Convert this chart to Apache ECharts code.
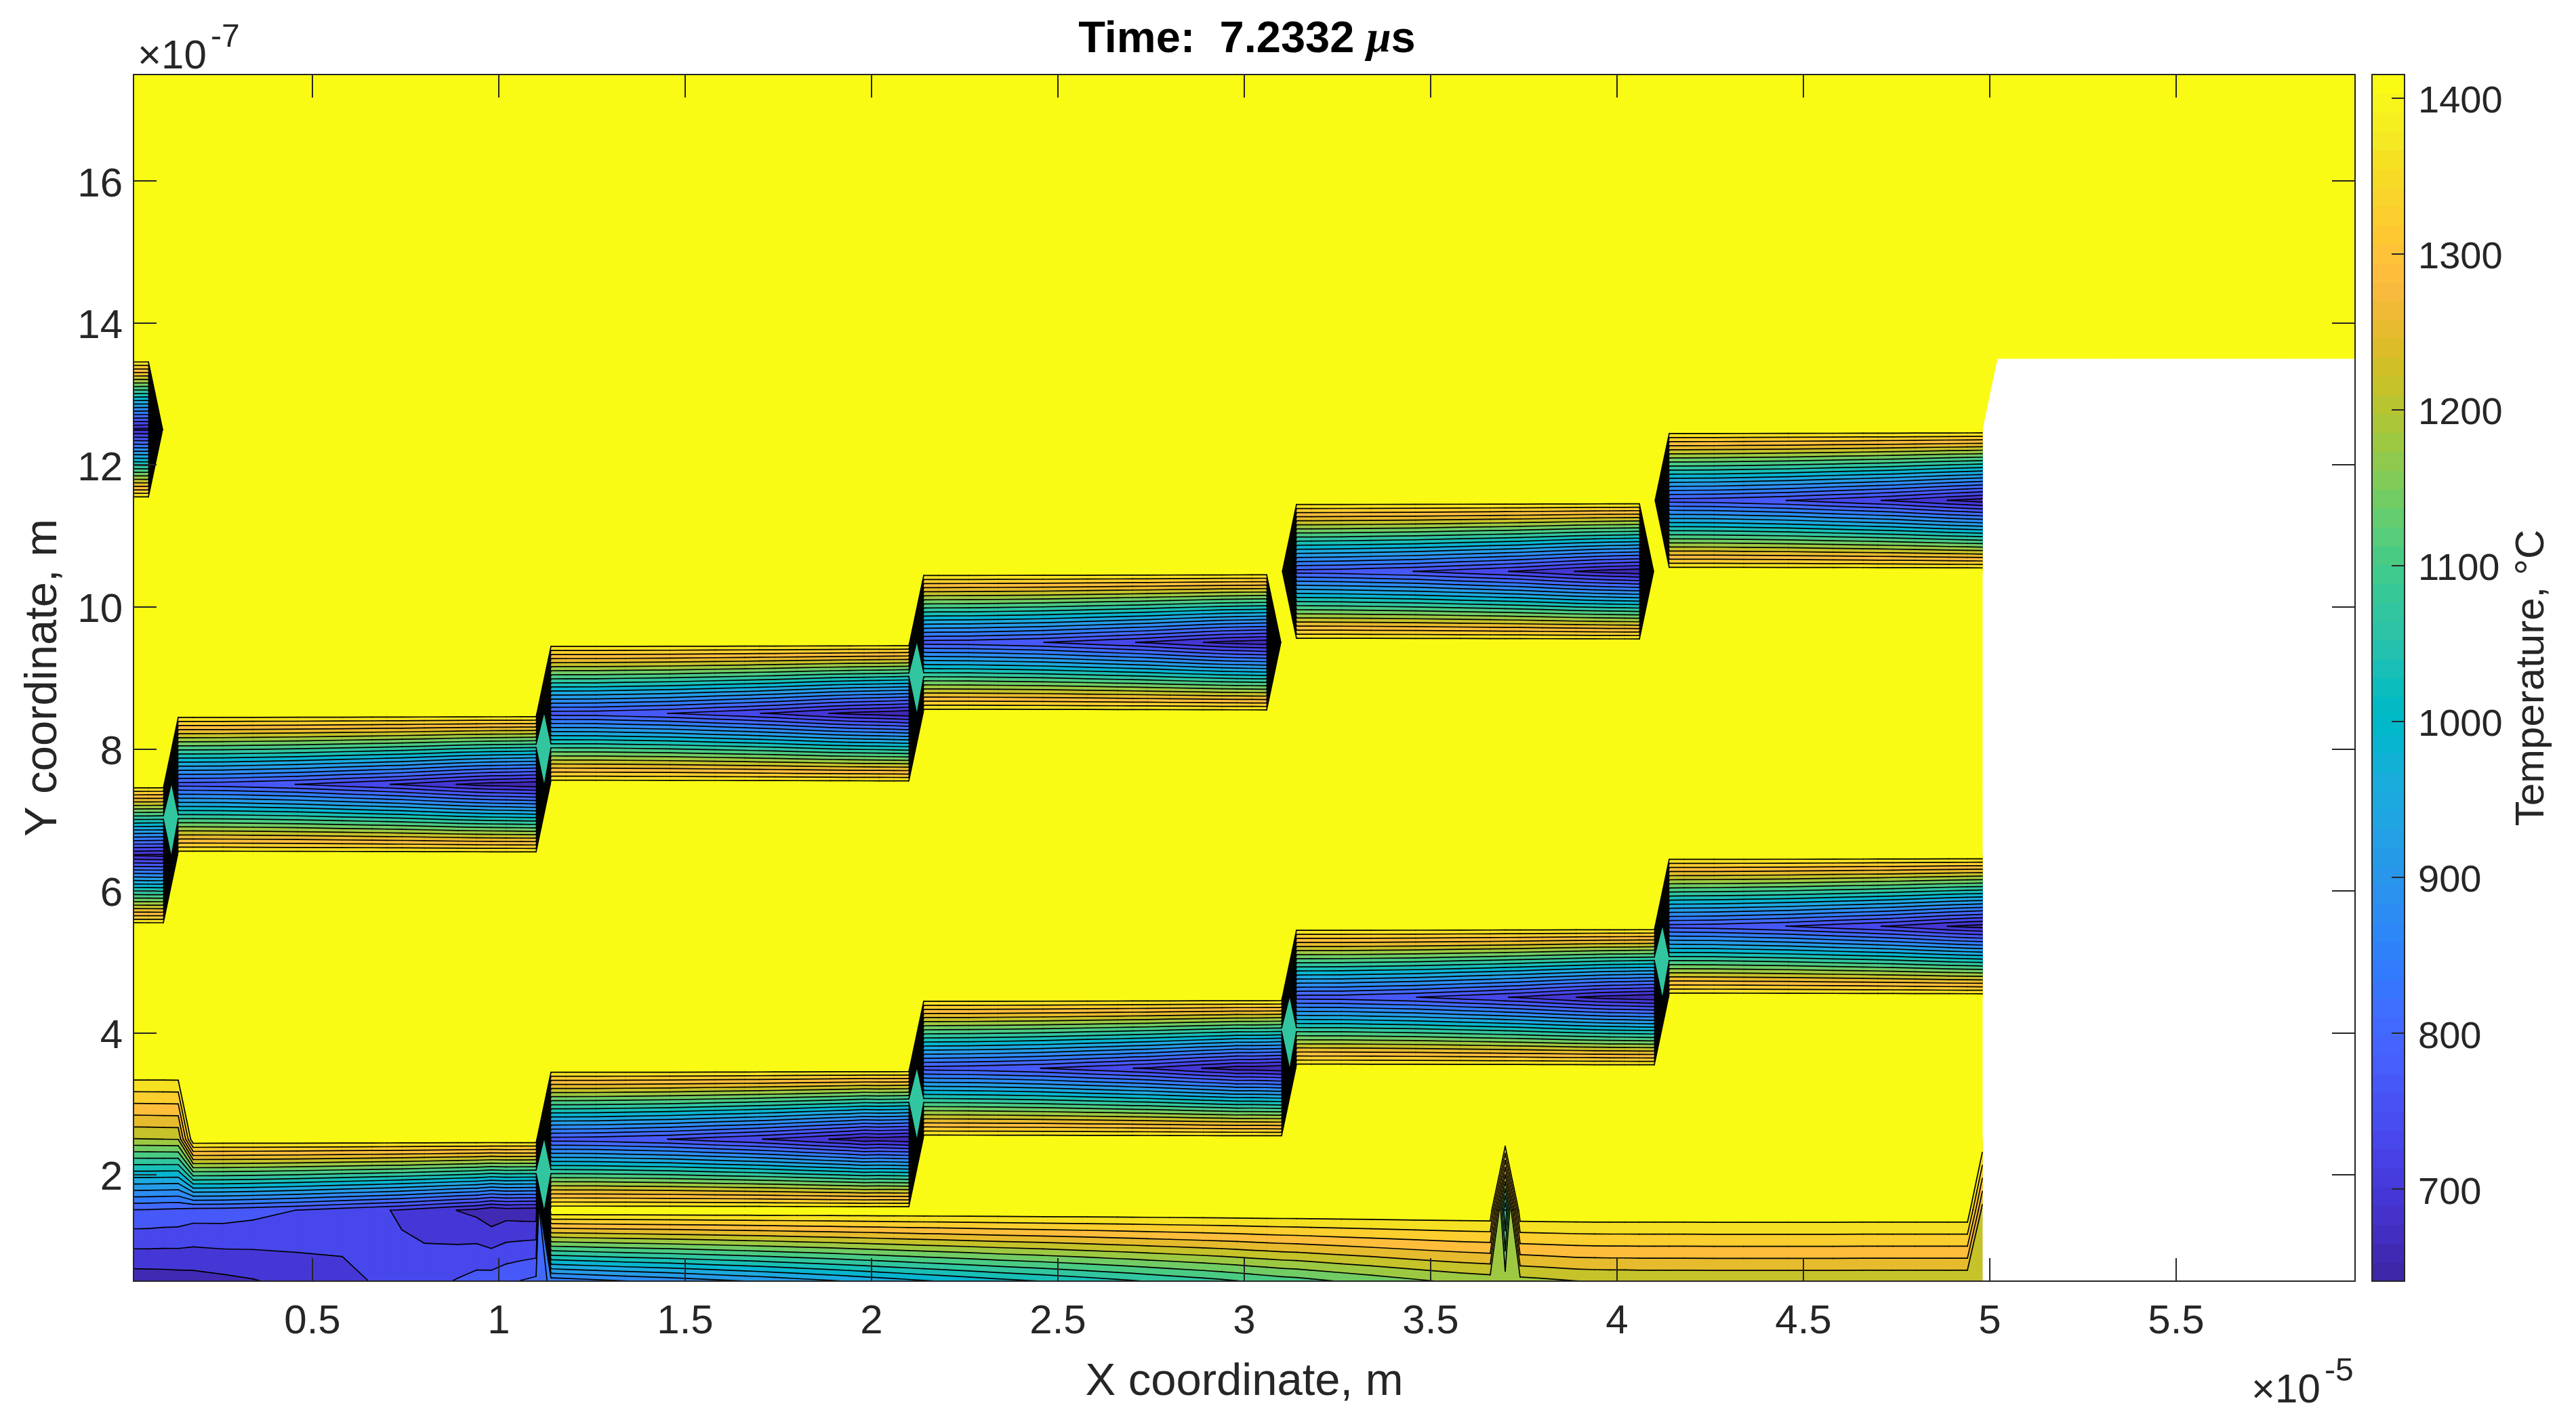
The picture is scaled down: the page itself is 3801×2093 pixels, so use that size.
<!DOCTYPE html>
<html>
<head>
<meta charset="utf-8">
<style>
  html, body { margin: 0; padding: 0; background: #fff; }
  #chart { width: 3801px; height: 2093px; }
</style>
<script src="https://cdn.jsdelivr.net/npm/echarts@6/dist/echarts.min.js"></script>
</head>
<body>
<div id="chart"></div>
<script>
var tempMin = 641;
var tempMax = 1415;

// contour levels (the 20 lines of the plot)
var levels = [677.9, 714.7, 751.6, 788.4, 825.3, 862.1, 899.0, 935.9, 972.7, 1009.6,
  1046.4, 1083.3, 1120.1, 1157.0, 1193.9, 1230.7, 1267.6, 1304.4, 1341.3, 1378.1];

// mesh, x in 1e-5 m and y in 1e-7 m
var edgeX = [0.02, 0.06, 0.10];
var blockOffsets = [0.14, 0.18, 0.26, 0.34, 0.46, 0.58, 0.66, 0.70, 0.74, 0.80, 0.89, 0.94, 0.98, 1.02, 1.06, 1.10];
var farX = [5.02, 5.98];
var yNodes = [0.5, 1.5, 2.5, 3.5, 4.5, 5.5, 6.5, 7.5, 8.5, 9.5, 10.5, 11.5, 12.5, 13.5, 17.5];

// temperatures, one per blockOffsets entry
var row0_5a = [659, 661, 668, 675, 690, 705, 716, 720, 727, 735, 755, 767, 770, 781, 790, 798];
var row0_5b = [835, 840, 850, 860, 872, 888, 898, 903, 909, 918, 930, 938, 944, 950, 956, 962];
var row0_5c = [968, 973, 984, 996, 1010, 1026, 1037, 1042, 1048, 1056, 1068, 1075, 1081, 1088, 1094, 1100];
var row0_5d = [1104, 1110, 1122, 1133, 1150, 1165, 1172, 1175, 1180, 1185, 1193, 1195, 1196, 1196, 1197, 1197];
var row0_5e = [1197, 1197, 1198, 1198, 1198, 1198, 1197, 1197, 1197, 1197, 1197, 1197, 1222];
var row1_5a = [780, 772, 771, 764, 751, 733, 722, 716, 710, 697, 677, 668, 650, 660, 657, 655];
var row2_5b = [771, 770, 768, 761, 751, 733, 722, 716, 709, 696, 677, 667, 655, 660, 656, 650];
var row3_5c = [772, 771, 768, 762, 751, 733, 722, 715, 710, 697, 677, 668, 658, 659, 655, 649];
var row4_5d = [771, 770, 769, 762, 752, 734, 723, 716, 710, 697, 678, 668, 662, 659, 654, 650];
var row5_5e = [773, 772, 769, 762, 751, 733, 722, 716, 710, 697, 677, 668, 662];
var row7_5a = [772, 771, 769, 762, 751, 733, 722, 716, 710, 697, 677, 668, 662, 659, 655, 650];
var row8_5b = [770, 769, 768, 761, 751, 733, 722, 715, 709, 696, 677, 669, 664, 660, 655, 648];
var row9_5c = [771, 770, 768, 762, 752, 734, 722, 716, 710, 697, 678, 668, 663, 659, 654];
var row10_5d = [773, 772, 768, 761, 751, 733, 722, 716, 710, 697, 677, 668, 662, 658, 652];
var row11_5e = [772, 771, 769, 762, 751, 733, 722, 716, 710, 697, 677, 668, 660];

// values left of the first block
var row0_5edge = [655, 656, 657];
var row1_5edge = [786, 785, 782];
var row2_5edge = [1192, 1193, 1194];
var row2_5at014 = 1195;
var row6_5edge = [672, 670, 668];
var row12_5edge = [670, 668];

// the narrow spike at x = 3.70 and the right end of the strip at x = 4.98
var spikeTemp = 1046;
var endTemp = 1215;

var xTicks = [0.5, 1, 1.5, 2, 2.5, 3, 3.5, 4, 4.5, 5, 5.5];
var yTicks = [2, 4, 6, 8, 10, 12, 14, 16];
var barTicks = [700, 800, 900, 1000, 1100, 1200, 1300, 1400];

// parula, 64 entries
var parula = ['#3e26a8','#402ab4','#422ec0','#4432cb','#4537d5','#463cde','#4741e5','#4747eb',
  '#484df0','#4852f4','#4758f8','#465efb','#4563fd','#4269fe','#3e6fff','#3875fe',
  '#327bfc','#2f81fa','#2d87f7','#2d8cf3','#2b91ef','#2796eb','#259be7','#23a0e5',
  '#20a5e3','#1ca9df','#18addb','#11b1d6','#08b5d0','#01b8ca','#02bac3','#0bbdbc',
  '#18bfb6','#24c1ae','#2cc3a7','#31c69f','#37c897','#3fca8e','#4acb84','#57cc7a',
  '#63cd6f','#71cc64','#81cc59','#8fca4e','#9dc942','#abc739','#b9c431','#c5c22a',
  '#d1bf27','#dcbd29','#e6bb2d','#efba36','#f8ba3d','#febe3c','#fec338','#fec833',
  '#fcce2e','#f9d42a','#f7da26','#f5e022','#f5e924','#f5ef20','#f7f51b','#f9fb15'];

function tempColor(t) {
  var i = Math.floor((t - tempMin) / (tempMax - tempMin) * 64);
  return parula[Math.max(0, Math.min(63, i))];
}

// a band between two levels takes the colour of its middle value
var bandColors = [];
for (var b = 0; b <= levels.length; b++) {
  var lo = b === 0 ? tempMin : levels[b - 1];
  var hi = b === levels.length ? tempMax : levels[b];
  bandColors.push(b === levels.length ? parula[63] : tempColor((lo + hi) / 2));
}

function round2(v) {
  return Math.round(v * 100) / 100;
}

// build the grid
var xNodes = edgeX.slice();
[0, 1, 2, 3, 4].forEach(function(base) {
  blockOffsets.forEach(function(o) {
    if (base + o <= 4.98) xNodes.push(round2(base + o));
  });
});
xNodes = xNodes.concat(farX);

var field = yNodes.map(function(y) {
  return xNodes.map(function(x) {
    return (x > 4.98 && y < 13.5) ? null : tempMax;
  });
});

function setRow(y, base, values) {
  var r = yNodes.indexOf(y);
  values.forEach(function(v, i) {
    field[r][xNodes.indexOf(round2(base + blockOffsets[i]))] = v;
  });
}
function setEdge(y, values) {
  var r = yNodes.indexOf(y);
  values.forEach(function(v, i) { field[r][i] = v; });
}

setRow(0.5, 0, row0_5a);
setRow(0.5, 1, row0_5b);
setRow(0.5, 2, row0_5c);
setRow(0.5, 3, row0_5d);
setRow(0.5, 4, row0_5e);
setRow(1.5, 0, row1_5a);
setRow(2.5, 1, row2_5b);
setRow(3.5, 2, row3_5c);
setRow(4.5, 3, row4_5d);
setRow(5.5, 4, row5_5e);
setRow(7.5, 0, row7_5a);
setRow(8.5, 1, row8_5b);
setRow(9.5, 2, row9_5c);
setRow(10.5, 3, row10_5d);
setRow(11.5, 4, row11_5e);
setEdge(0.5, row0_5edge);
setEdge(1.5, row1_5edge);
setEdge(2.5, row2_5edge);
setEdge(6.5, row6_5edge);
setEdge(12.5, row12_5edge);
field[yNodes.indexOf(2.5)][xNodes.indexOf(0.14)] = row2_5at014;
field[yNodes.indexOf(1.5)][xNodes.indexOf(3.70)] = spikeTemp;
field[yNodes.indexOf(1.5)][xNodes.indexOf(4.98)] = endTemp;

// cell list with corners in walking order
var cells = [];
for (var cy = 0; cy < yNodes.length - 1; cy++) {
  for (var cx = 0; cx < xNodes.length - 1; cx++) {
    var corners = [[cx, cy], [cx + 1, cy], [cx + 1, cy + 1], [cx, cy + 1]].map(function(p) {
      return { x: xNodes[p[0]], y: yNodes[p[1]], t: field[p[1]][p[0]] };
    }).filter(function(p) { return p.t !== null; });
    if (corners.length >= 3) {
      var ts = corners.map(function(p) { return p.t; });
      var tLow = Math.min.apply(null, ts);
      var first = 0;
      while (first < levels.length && levels[first] <= tLow) first++;
      cells.push({ c: corners, first: first, tHigh: Math.max.apply(null, ts) });
    }
  }
}

function crossPoint(a, b, level) {
  var f = (level - a.t) / (b.t - a.t);
  return [a.x + (b.x - a.x) * f, a.y + (b.y - a.y) * f];
}

// walks a cell at one level: regions with t >= level and the contour segments
function sliceCell(c, level) {
  var n = c.length;
  var crossings = [];
  var hotCount = 0;
  var mean = 0;
  var i;
  for (i = 0; i < n; i++) {
    mean += c[i].t / n;
    if (c[i].t >= level) hotCount++;
  }
  var walk = [];
  for (i = 0; i < n; i++) {
    var a = c[i];
    var b = c[(i + 1) % n];
    if (a.t >= level) walk.push([a.x, a.y]);
    if ((a.t >= level) !== (b.t >= level)) {
      var p = crossPoint(a, b, level);
      crossings.push(p);
      walk.push(p);
    }
  }
  if (crossings.length === 4) {
    // saddle, the mean decides how the corners join
    if (mean >= level) {
      if (c[0].t >= level) {
        return { polys: [walk], segs: [[crossings[0], crossings[1]], [crossings[2], crossings[3]]] };
      }
      return { polys: [walk], segs: [[crossings[3], crossings[0]], [crossings[1], crossings[2]]] };
    }
    if (c[0].t >= level) {
      return {
        polys: [[crossings[3], [c[0].x, c[0].y], crossings[0]], [crossings[1], [c[2].x, c[2].y], crossings[2]]],
        segs: [[crossings[3], crossings[0]], [crossings[1], crossings[2]]]
      };
    }
    return {
      polys: [[crossings[0], [c[1].x, c[1].y], crossings[1]], [crossings[2], [c[3].x, c[3].y], crossings[3]]],
      segs: [[crossings[0], crossings[1]], [crossings[2], crossings[3]]]
    };
  }
  return { polys: hotCount ? [walk] : [], segs: crossings.length === 2 ? [crossings] : [] };
}

// one item per band, painted low to high so a band never bleeds over a warmer one
function renderBand(params, api) {
  var band = api.value(0);
  var color = bandColors[band];
  var children = [];
  var poly = function(pts) {
    children.push({
      type: 'polygon',
      shape: { points: pts.map(function(p) { return api.coord(p); }) },
      style: { fill: color, stroke: color, lineWidth: 1 }
    });
  };
  cells.forEach(function(cell) {
    if (cell.first === band) {
      poly(cell.c.map(function(p) { return [p.x, p.y]; }));
    } else if (band > cell.first && levels[band - 1] < cell.tHigh) {
      sliceCell(cell.c, levels[band - 1]).polys.forEach(poly);
    }
  });
  return { type: 'group', children: children };
}

function renderLevel(params, api) {
  var level = levels[api.value(0)];
  var children = [];
  cells.forEach(function(cell) {
    if (levels[cell.first] === undefined || level < levels[cell.first] || level >= cell.tHigh) return;
    sliceCell(cell.c, level).segs.forEach(function(seg) {
      var p = api.coord(seg[0]);
      var q = api.coord(seg[1]);
      children.push({
        type: 'line',
        shape: { x1: p[0], y1: p[1], x2: q[0], y2: q[1] },
        style: { stroke: '#000', lineWidth: 1.7, lineCap: 'round' }
      });
    });
  });
  return { type: 'group', children: children };
}

function renderBar(params, api) {
  var i = api.value(0);
  var span = (tempMax - tempMin) / 64;
  var p0 = api.coord([0, tempMin + i * span]);
  var p1 = api.coord([1, tempMin + (i + 1) * span]);
  return {
    type: 'rect',
    shape: { x: p0[0], y: p1[1] - 0.5, width: p1[0] - p0[0], height: p0[1] - p1[1] + 1 },
    style: { fill: parula[i] }
  };
}

var fontName = '"Liberation Sans", Arial, sans-serif';
var ink = '#262626';
var tickFont = { color: ink, fontFamily: fontName, fontSize: 60 };
var nameFont = { color: ink, fontFamily: fontName, fontSize: 67 };
var barNameFont = { color: ink, fontFamily: fontName, fontSize: 60 };
var boxLine = { show: true, onZero: false, lineStyle: { color: ink, width: 2 } };

function plotTicks(values) {
  return { show: true, inside: true, length: 34, customValues: values, lineStyle: { color: ink, width: 2 } };
}
function plainLabel(v) {
  return String(v);
}
function loweredLabel(v) {
  return '{a|' + v + '}';
}
// the original labels sit a few pixels below their ticks
function loweredRich(size) {
  return { a: { color: ink, fontFamily: fontName, fontSize: size, padding: [12, 0, 0, 0] } };
}

var bandIndex = bandColors.map(function(c, i) { return [i]; });
var levelIndex = levels.map(function(c, i) { return [i]; });
var barIndex = parula.map(function(c, i) { return [i]; });

var chart = echarts.init(document.getElementById('chart'));
var option = {
  animation: false,
  backgroundColor: '#fff',
  title: {
    text: '{b|Time:  7.2332 }{m|\u03bc}{b|s}',
    left: 1835,
    top: 22,
    textAlign: 'center',
    textStyle: {
      rich: {
        b: { fontFamily: fontName, fontWeight: 'bold', fontSize: 65, color: '#000' },
        m: { fontFamily: '"Liberation Serif", serif', fontStyle: 'italic', fontSize: 65, color: '#000' }
      }
    }
  },
  grid: [
    { left: 197, top: 110, width: 3278, height: 1781 },
    { left: 3500, top: 110, width: 48, height: 1781 }
  ],
  xAxis: [
    {
      gridIndex: 0, type: 'value', min: 0.02, max: 5.98, position: 'bottom', z: 10,
      name: 'X coordinate, m', nameLocation: 'middle', nameGap: 116, nameTextStyle: nameFont,
      axisLine: boxLine, axisTick: plotTicks(xTicks), splitLine: { show: false },
      axisLabel: Object.assign({ margin: 30, customValues: xTicks, formatter: plainLabel }, tickFont)
    },
    {
      gridIndex: 0, type: 'value', min: 0.02, max: 5.98, position: 'top', z: 10,
      axisLine: boxLine, axisTick: plotTicks(xTicks), splitLine: { show: false }, axisLabel: { show: false }
    },
    {
      gridIndex: 1, type: 'value', min: 0, max: 1, position: 'bottom', z: 10,
      axisLine: boxLine, axisTick: { show: false }, splitLine: { show: false }, axisLabel: { show: false }
    },
    {
      gridIndex: 1, type: 'value', min: 0, max: 1, position: 'top', z: 10,
      axisLine: boxLine, axisTick: { show: false }, splitLine: { show: false }, axisLabel: { show: false }
    }
  ],
  yAxis: [
    {
      gridIndex: 0, type: 'value', min: 0.5, max: 17.5, position: 'left', z: 10,
      name: 'Y coordinate, m', nameLocation: 'middle', nameGap: 99, nameTextStyle: nameFont,
      axisLine: boxLine, axisTick: plotTicks(yTicks), splitLine: { show: false },
      axisLabel: { margin: 16, customValues: yTicks, formatter: loweredLabel, rich: loweredRich(60) }
    },
    {
      gridIndex: 0, type: 'value', min: 0.5, max: 17.5, position: 'right', z: 10,
      axisLine: boxLine, axisTick: plotTicks(yTicks), splitLine: { show: false }, axisLabel: { show: false }
    },
    {
      gridIndex: 1, type: 'value', min: tempMin, max: tempMax, position: 'left', z: 10,
      axisLine: boxLine, axisTick: { show: false }, splitLine: { show: false }, axisLabel: { show: false }
    },
    {
      gridIndex: 1, type: 'value', min: tempMin, max: tempMax, position: 'right', z: 10,
      name: 'Temperature, \u00b0C', nameLocation: 'middle', nameGap: 158, nameRotate: 90, nameTextStyle: barNameFont,
      axisLine: boxLine,
      axisTick: { show: true, inside: true, length: 19, customValues: barTicks, lineStyle: { color: ink, width: 2 } },
      splitLine: { show: false },
      axisLabel: { margin: 20, customValues: barTicks, formatter: loweredLabel, rich: loweredRich(56) }
    }
  ],
  graphic: [
    { type: 'text', left: 203, top: 54, style: { text: '\u00d710', font: '60px ' + fontName, fill: ink } },
    { type: 'text', left: 311, top: 32, style: { text: '-7', font: '48px ' + fontName, fill: ink } },
    { type: 'text', left: 3322, top: 2023, style: { text: '\u00d710', font: '60px ' + fontName, fill: ink } },
    { type: 'text', left: 3430, top: 2001, style: { text: '-5', font: '48px ' + fontName, fill: ink } }
  ],
  series: [
    {
      type: 'custom', xAxisIndex: 0, yAxisIndex: 0, z: 2, silent: true,
      coordinateSystem: 'cartesian2d', renderItem: renderBand, data: bandIndex
    },
    {
      type: 'custom', xAxisIndex: 0, yAxisIndex: 0, z: 3, silent: true,
      coordinateSystem: 'cartesian2d', renderItem: renderLevel, data: levelIndex
    },
    {
      type: 'custom', xAxisIndex: 2, yAxisIndex: 2, z: 2, silent: true,
      coordinateSystem: 'cartesian2d', renderItem: renderBar, data: barIndex
    }
  ]
};
chart.setOption(option);
</script>
</body>
</html>
